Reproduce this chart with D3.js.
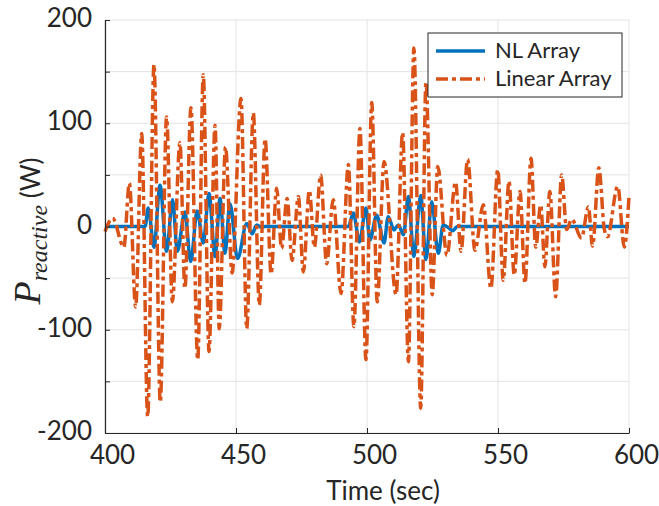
<!DOCTYPE html>
<html>
<head>
<meta charset="utf-8">
<script src="https://cdn.jsdelivr.net/npm/d3@7"></script>
<style>
  html, body { margin: 0; padding: 0; background: #fff; }
  svg { display: block; }
</style>
</head>
<body>
<svg id="chart" width="659" height="506"></svg>
<script>
// ---- data ----
const xTicks = [400, 450, 500, 550, 600];
const yTicks = [-200, -150, -100, -50, 0, 50, 100, 150, 200];
const yTickLabels = ["-200", "", "-100", "", "0", "", "100", "", "200"];
const seriesNames = ["NL Array", "Linear Array"];

// NL Array: extrema (time in sec, power in W)
const nlTime = [400, 415.3, 416.5, 418.7, 421.0, 423.5, 425.8, 427.6, 430.5, 432.7, 435.2, 437.5, 439.7, 442.0, 443.9, 445.8, 447.7, 450.6, 454.1, 456.2, 457.9, 459.8, 461,
  492.9, 494.8, 497.1, 499.6, 501.1, 503.7, 506.5, 508.1, 510.3, 512, 513.9, 515.8, 517.9, 520.5, 522.5, 524.7, 527.2, 529.1, 531, 532.8, 534.5, 600];
const nlValue = [0, 0, 18, -20, 40, -24, 26, -24, 14, -34, 15, -16, 32, -29, 27, -26, 22, -31, 3, -7, 1.5, -1, 0,
  0, 13, -15, 18, -13, 11, -16, 9.5, -3.4, 1.5, -8, 29, -29, 30, -32, 24, -26, 1.5, -1, -4, 0, 0];

// Linear Array: extrema (time in sec, power in W)
const linTime = [400.0, 402.9, 407.2, 409.3, 411.7, 414.0, 416.3, 418.7, 421.1, 423.5, 425.7, 428.6, 430.5, 432.8, 435.4,
  437.5, 439.7, 442.0, 443.6, 446.0, 448.5, 451.9, 454.1, 456.6, 458.9, 461.1, 463.4, 465.5, 467.4, 469.5, 471.4,
  473.8, 475.7, 478.0, 479.9, 482.3, 484.6, 487.1, 490.1, 492.9, 495.0, 497.3, 499.6, 501.8, 503.9, 506.5, 511.1,
  513.6, 515.8, 517.9, 520.5, 522.5, 524.9, 527.0, 530.5, 533.8, 535.9, 538.4, 541.2, 544.4, 547.3, 549.9, 552.0,
  554.2, 556.2, 558.4, 560.3, 562.6, 564.4, 566.3, 567.9, 569.8, 572.0, 574.3, 576.2, 578.1, 581.9, 584.5, 586.1,
  588.5, 590.6, 591.8, 595.7, 598.2, 600];
const linValue = [-5, 8, -20, 42, -78, 90, -184, 157, -170, 106, -73, 81, -60, 115, -129,
  147, -121, 98, -99, 77, -45, 124, -99, 110, -76, 85, -46, 37, -21, 27, -33,
  29, -44, 35, -20, 50, -36, 26, -65, 60, -97, 95, -129, 120, -73, 63, -66,
  91, -131, 173, -176, 140, -66, 58, -28, 43, -24, 65, -23, 21, -60, 55, -52,
  44, -47, 34, -55, 66, -20, 21, -39, 34, -68, 50, -3, 7, -11, 19, -19,
  57, -3, -10, 39, -20, 29];

// ---- layout ----
const svg = d3.select("#chart");
const L = 105, R = 629, T = 20, B = 433;
const x = d3.scaleLinear().domain([400, 600]).range([L, R]);
const y = d3.scaleLinear().domain([-200, 200]).range([B, T]);
const axisColor = "#262626";
const font = "Lato, 'Open Sans', sans-serif";

// grid
const grid = svg.append("g");
grid.selectAll("line.gx").data(xTicks).join("line")
  .attr("x1", d => x(d)).attr("x2", d => x(d)).attr("y1", T).attr("y2", B)
  .attr("stroke", "#e3e3e3").attr("stroke-width", 1);
grid.selectAll("line.gy").data(yTicks).join("line")
  .attr("x1", L).attr("x2", R).attr("y1", d => y(d)).attr("y2", d => y(d))
  .attr("stroke", "#e3e3e3").attr("stroke-width", 1);

// series
const pts = (ts, vs) => ts.map((t, i) => [t, vs[i]]);
const line = d3.line().x(d => x(d[0])).y(d => y(d[1])).curve(d3.curveMonotoneX);
const plot = svg.append("g");
plot.append("path").datum(pts(nlTime, nlValue))
  .attr("d", line).attr("fill", "none").attr("stroke", "#0072BD")
  .attr("stroke-width", 3.5).attr("stroke-linejoin", "round");
plot.append("path").datum(pts(linTime, linValue))
  .attr("d", line).attr("fill", "none").attr("stroke", "#D95319")
  .attr("stroke-width", 3.5).attr("stroke-dasharray", "12,4,4,4");

// axes
const xAxis = d3.axisBottom(x).tickValues(xTicks).tickSizeInner(-5).tickSizeOuter(0).tickPadding(13);
const yAxis = d3.axisLeft(y).tickValues(yTicks).tickFormat((d, i) => yTickLabels[i]).tickSizeInner(-5).tickSizeOuter(0).tickPadding(13);
const gx = svg.append("g").attr("transform", `translate(0,${B})`).call(xAxis);
const gy = svg.append("g").attr("transform", `translate(${L},0)`).call(yAxis);
[gx, gy].forEach(g => {
  g.select(".domain").attr("stroke", axisColor).attr("stroke-width", 1.2);
  g.selectAll(".tick line").attr("stroke", axisColor).attr("stroke-width", 1);
  g.selectAll(".tick text").attr("fill", axisColor).style("font-family", font).style("font-size", "26px");
});
gx.selectAll(".tick text").attr("dx", 7).attr("dy", "0.71em");
gy.selectAll(".tick text").attr("dy", "0.25em");

// axis titles
svg.append("text").attr("x", 383).attr("y", 500).attr("text-anchor", "middle")
  .attr("fill", axisColor).style("font-family", font).style("font-size", "26px").text("Time (sec)");

const yl = svg.append("text").attr("transform", "translate(40,231) rotate(-90)")
  .attr("text-anchor", "middle").attr("fill", axisColor);
yl.append("tspan").style("font-family", "'Liberation Serif', serif").style("font-style", "italic").style("font-size", "38px").text("P");
yl.append("tspan").attr("dy", 7).style("font-family", "'Liberation Serif', serif").style("font-style", "italic").style("font-size", "24px").text("reactive");
yl.append("tspan").attr("dy", -7).style("font-family", font).style("font-size", "26px").text("\u00a0(W)");

// legend
const lg = svg.append("g");
lg.append("rect").attr("x", 428).attr("y", 33).attr("width", 194).attr("height", 64)
  .attr("fill", "#fff").attr("stroke", axisColor).attr("stroke-width", 1);
const legColors = ["#0072BD", "#D95319"];
const legDash = [null, "12,4,4,4"];
const legY = [51, 79];
seriesNames.forEach((n, i) => {
  lg.append("line").attr("x1", 436).attr("x2", 485).attr("y1", legY[i]).attr("y2", legY[i])
    .attr("stroke", legColors[i]).attr("stroke-width", 3.5).attr("stroke-dasharray", legDash[i]);
  lg.append("text").attr("x", 495).attr("y", legY[i] + 7).attr("fill", axisColor)
    .style("font-family", font).style("font-size", "22px").text(n);
});
</script>
</body>
</html>
